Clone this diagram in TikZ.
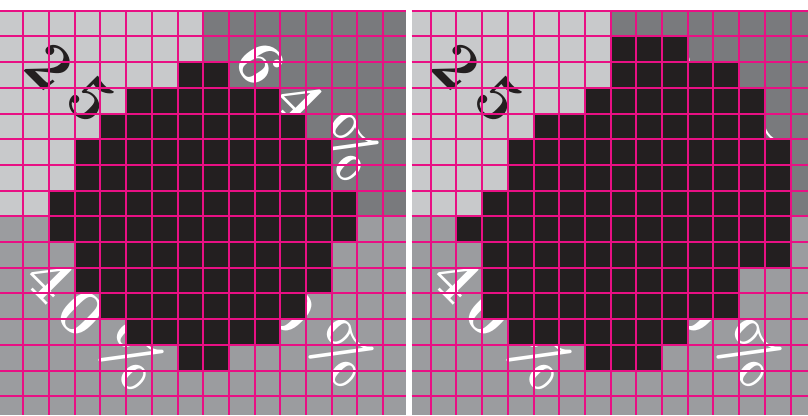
\documentclass[tikz,border=0pt]{standalone}
\usepackage{tikz}
\definecolor{lightg}{RGB}{200,201,203}
\definecolor{darkg}{RGB}{121,122,125}
\definecolor{midg}{RGB}{155,156,159}
\definecolor{blk}{RGB}{35,31,32}
\definecolor{mag}{RGB}{232,16,132}
\tikzset{
  dig/.style={rotate=-45, inner sep=0pt, font=\fontsize{66}{66}\selectfont\bfseries},
  blacktext/.style={dig, text=blk},
  whitetext/.style={dig, text=white},
  gridline/.style={draw=mag, line width=2pt},
}
\newcommand\drawlabels{%
  \node[blacktext] (a2) at (50,66) {2};
  \node[blacktext] (a5) at (91,100) {5};
  \node[blacktext] (ap) at (145,147) {\%};
  \node[whitetext, rotate=-12] (b6) at (260,64) {6};
  \node[whitetext] (b4) at (300,100) {4};
  \node[whitetext] (bp) at (347,147) {\%};
  \node[whitetext] (c4) at (50,278) {4};
  \node[whitetext] (c0) at (82,314) {0};
  \node[whitetext] (cp) at (132,356) {\%};
  \node[whitetext] (d0) at (292,311) {0};
  \node[whitetext] (dp) at (342,353) {\%};
}
\begin{document}
\begin{tikzpicture}[x=1pt,y=-1pt]
\useasboundingbox (0,0) rectangle (808,415);
\fill[white] (0,0) rectangle (808,415);
% ---------------- left panel
\begin{scope}
  \clip (0,10) rectangle (406,415);
  \fill[lightg] (0,10) rectangle (203.2,216.3);
  \fill[darkg] (203.2,10) rectangle (406,216.3);
  \fill[midg] (0,216.3) rectangle (406,415);
  \begin{scope}[name prefix=L-]
    \drawlabels
  \end{scope}
  \foreach \r/\a/\b in {2/7/8,3/5/10,4/4/11,5/3/12,6/3/12,7/2/13,8/2/13,9/3/12,10/3/12,11/4/11,12/5/10,13/7/8}
    \fill[blk] ({23.3+(\a-1)*25.7},{10.7+\r*25.7}) rectangle ({23.3+\b*25.7},{10.7+(\r+1)*25.7});
  \foreach \k in {0,...,14}
    \draw[gridline] ({23.3+\k*25.7},10) -- ({23.3+\k*25.7},415);
  \foreach \k in {0,...,15}
    \draw[gridline] (0,{10.7+\k*25.7}) -- (406,{10.7+\k*25.7});
\end{scope}
% ---------------- right panel
\begin{scope}
  \clip (411.7,10) rectangle (808,415);
  \fill[lightg] (411.7,10) rectangle (610.6,216.3);
  \fill[darkg] (610.6,10) rectangle (808,216.3);
  \fill[midg] (411.7,216.3) rectangle (808,415);
  \begin{scope}[xshift=407.4pt, name prefix=R-]
    \drawlabels
  \end{scope}
  \foreach \r/\a/\b in {1/8/10,2/8/12,3/7/13,4/5/13,5/4/14,6/4/14,7/3/14,8/2/14,9/3/14,10/3/12,11/3/12,12/4/10,13/7/9}
    \fill[blk] ({430.7+(\a-1)*25.7},{10.7+\r*25.7}) rectangle ({430.7+\b*25.7},{10.7+(\r+1)*25.7});
  \foreach \k in {0,...,14}
    \draw[gridline] ({430.7+\k*25.7},10) -- ({430.7+\k*25.7},415);
  \foreach \k in {0,...,15}
    \draw[gridline] (411.7,{10.7+\k*25.7}) -- (808,{10.7+\k*25.7});
\end{scope}
\end{tikzpicture}
\end{document}
